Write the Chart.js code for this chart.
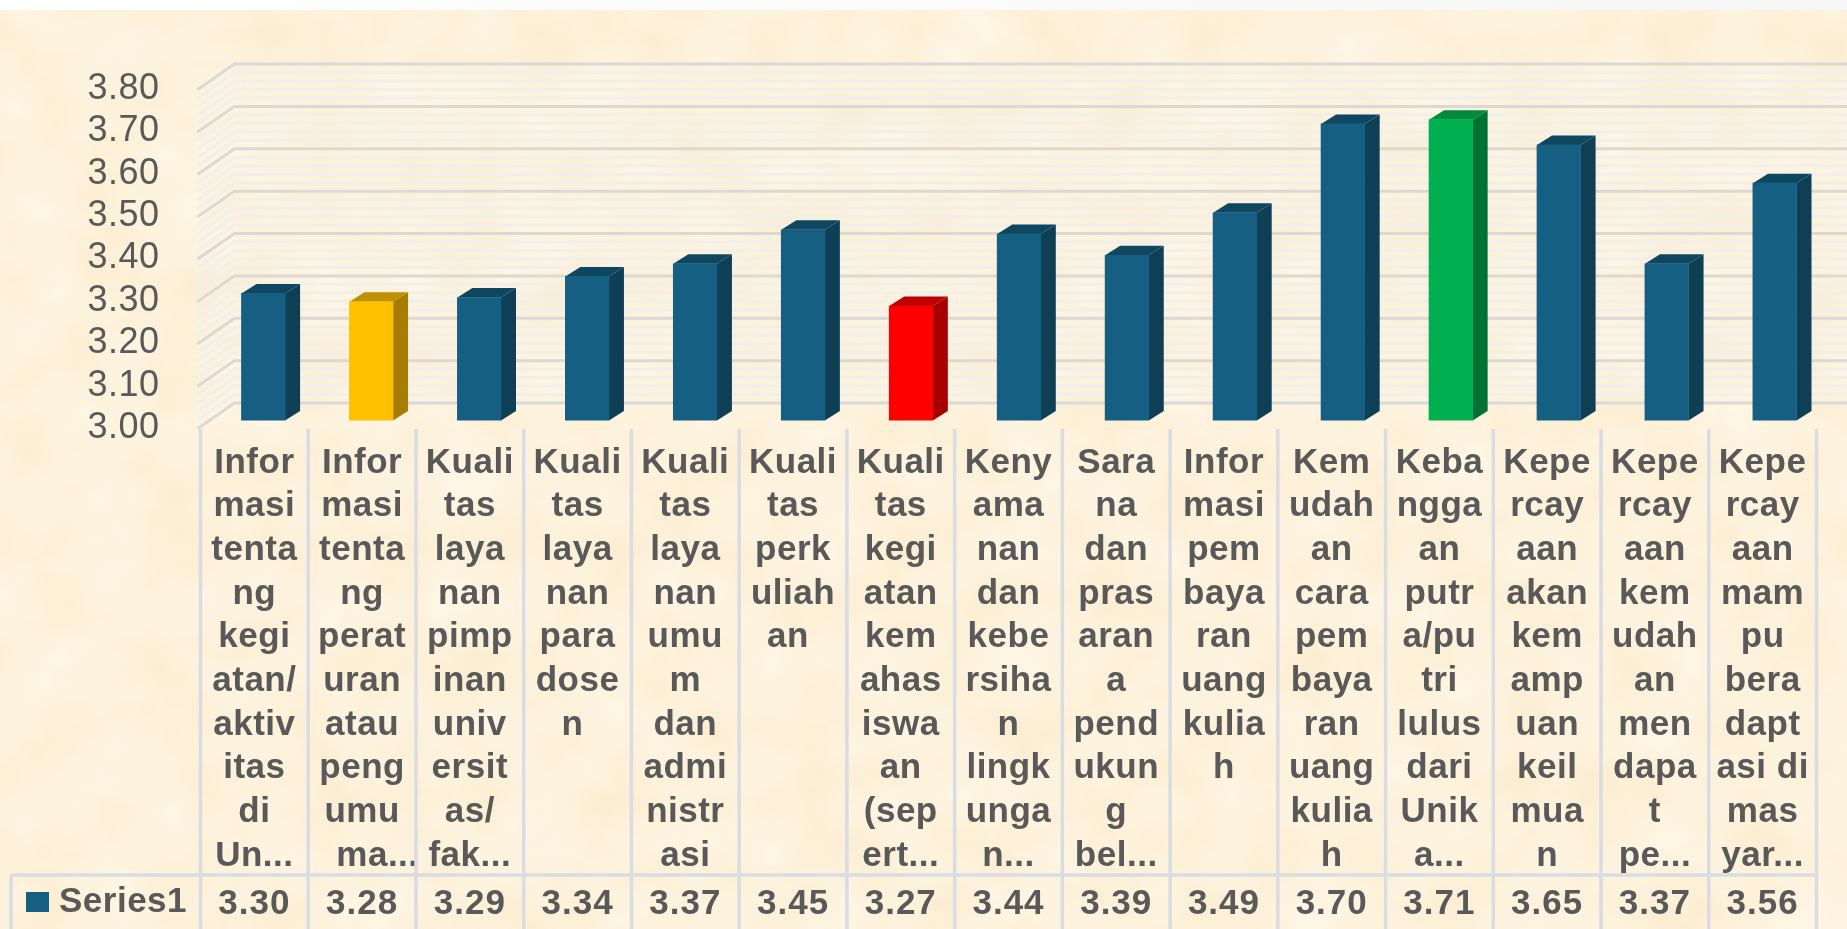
<!DOCTYPE html>
<html><head><meta charset="utf-8">
<style>
html,body{margin:0;padding:0;width:1847px;height:929px;overflow:hidden;background:#fff}
#bg{position:absolute;left:0;top:10px;width:1847px;height:919px}
#band{position:absolute;left:0;top:0;width:1847px;height:10px;background:linear-gradient(90deg,#fff,#f6f6f6)}
#wrap{position:absolute;left:0;top:0;width:1847px;height:929px}
</style></head><body>
<div id="band"></div>
<svg id="bg" xmlns="http://www.w3.org/2000/svg"><defs>
<filter id="p" x="0" y="0" width="100%" height="100%" color-interpolation-filters="sRGB">
<feTurbulence type="fractalNoise" baseFrequency="0.014 0.016" numOctaves="3" seed="7"/>
<feColorMatrix type="matrix" values="0 0 0 0.015 0.984  0 0 0 0.045 0.925  0 0 0 0.10 0.81  0 0 0 0 1"/>
</filter></defs><rect width="100%" height="100%" fill="#fdf1da"/><rect width="100%" height="100%" filter="url(#p)"/></svg>
<div id="wrap"><canvas id="c" width="1847" height="929"></canvas></div>
<script src="https://cdn.jsdelivr.net/npm/chart.js@4"></script>
<script>
const seriesName = "Series1";
const categoryLines = [
 ["Infor","masi","tenta","ng","kegi","atan/","aktiv","itas","di","Un..."],
 ["Infor","masi","tenta","ng","perat","uran","atau","peng","umu","   ma..."],
 ["Kuali","tas","laya","nan","pimp","inan","univ","ersit","as/","fak..."],
 ["Kuali","tas","laya","nan","para","dose","n "],
 ["Kuali","tas","laya","nan","umu","m","dan","admi","nistr","asi"],
 ["Kuali","tas","perk","uliah","an "],
 ["Kuali","tas","kegi","atan","kem","ahas","iswa","an","(sep","ert..."],
 ["Keny","ama","nan","dan","kebe","rsiha","n","lingk","unga","n..."],
 ["Sara","na","dan","pras","aran","a","pend","ukun","g","bel..."],
 ["Infor","masi","pem","baya","ran","uang","kulia","h"],
 ["Kem","udah","an","cara","pem","baya","ran","uang","kulia","h"],
 ["Keba","ngga","an","putr","a/pu","tri","lulus","dari","Unik","a..."],
 ["Kepe","rcay","aan","akan","kem","amp","uan","keil","mua","n"],
 ["Kepe","rcay","aan","kem","udah","an","men","dapa","t","pe..."],
 ["Kepe","rcay","aan","mam","pu","bera","dapt","asi di","mas","yar..."]
];
const seriesValues = [3.30,3.28,3.29,3.34,3.37,3.45,3.27,3.44,3.39,3.49,3.70,3.71,3.65,3.37,3.56];
const frontColors = ["#156082","#FFC000","#156082","#156082","#156082","#156082","#FF0000","#156082","#156082","#156082","#156082","#00B050","#156082","#156082","#156082"];
const sideColors  = ["#0E3F55","#A67D00","#0E3F55","#0E3F55","#0E3F55","#0E3F55","#A60000","#0E3F55","#0E3F55","#0E3F55","#0E3F55","#007233","#0E3F55","#0E3F55","#0E3F55"];
const topColors   = ["#0F4761","#BF9000","#0F4761","#0F4761","#0F4761","#0F4761","#C00000","#0F4761","#0F4761","#0F4761","#0F4761","#008A3E","#0F4761","#0F4761","#0F4761"];

const textColor = "#595959", fontFamily = "'Liberation Sans'";
const wall = {dx:36, dy:25, major:"#D9D9D9", minor:"#EFEFEE", right:1847};
const bar3d = {dx:15, dy:9.5, shiftY:-7.5, scaleX:1.0021, shiftX:8.35};
const table = {left:11, rowY:875, bottom:929, top:429, line:"#D9DCE2"};

const scene = {
 id:"scene",
 beforeDraw(chart){
  const {ctx, scales:{x,y}, chartArea:a} = chart;
  ctx.letterSpacing = "0.5px";
  ctx.save();
  const line = (v,color) => {
    const p = y.getPixelForValue(v);
    ctx.strokeStyle = color; ctx.lineWidth = 3; ctx.lineJoin = "round"; ctx.lineCap = "round";
    ctx.beginPath(); ctx.moveTo(a.left-2,p); ctx.lineTo(a.left-2+wall.dx,p-wall.dy); ctx.lineTo(wall.right+4,p-wall.dy); ctx.stroke();
  };
  for(let i=0;i<40;i++){ if(i%5) line(3+i*0.02, wall.minor); }
  for(let i=0;i<=40;i+=5){ line(3+i*0.02, wall.major); }
  ctx.restore();
 },
 beforeDatasetsDraw(chart){
  const {ctx, scales:{y}} = chart;
  const meta = chart.getDatasetMeta(0);
  const base = y.getPixelForValue(y.min);
  ctx.save();
  ctx.transform(bar3d.scaleX,0,0,1,bar3d.shiftX,bar3d.shiftY);
  meta.data.forEach((el,i)=>{
    const p = el.getProps(["x","y","width"],true);
    const l = p.x-p.width/2, r = p.x+p.width/2, dx = bar3d.dx, dy = bar3d.dy;
    ctx.fillStyle = sideColors[i];
    ctx.beginPath(); ctx.moveTo(r,p.y); ctx.lineTo(r+dx,p.y-dy); ctx.lineTo(r+dx,base-dy); ctx.lineTo(r,base); ctx.closePath(); ctx.fill();
    ctx.fillStyle = topColors[i];
    ctx.beginPath(); ctx.moveTo(l,p.y); ctx.lineTo(l+dx,p.y-dy); ctx.lineTo(r+dx,p.y-dy); ctx.lineTo(r,p.y); ctx.closePath(); ctx.fill();
  });
 },
 afterDatasetsDraw(chart){ chart.ctx.restore(); },
 afterDraw(chart){
  const {ctx, scales:{x}, chartArea:a} = chart;
  ctx.save();
  ctx.strokeStyle = table.line; ctx.lineWidth = 3.5;
  ctx.beginPath();
  ctx.moveTo(table.left,table.rowY); ctx.lineTo(a.right,table.rowY);
  ctx.moveTo(table.left,table.rowY); ctx.lineTo(table.left,table.bottom);
  for(let i=0;i<=seriesValues.length;i++){
    const px = a.left+(a.right-a.left)*i/seriesValues.length;
    ctx.moveTo(px,table.top); ctx.lineTo(px,table.bottom);
  }
  ctx.stroke();
  ctx.fillStyle = frontColors[0];
  ctx.fillRect(26,892,23,20);
  ctx.fillStyle = textColor;
  ctx.font = "bold 35px "+fontFamily;
  ctx.textBaseline = "middle";
  ctx.textAlign = "left";
  ctx.letterSpacing = "0.5px";
  ctx.fillText(seriesName,59,902);
  ctx.textAlign = "center";
  ctx.letterSpacing = "1px";
  seriesValues.forEach((v,i)=>ctx.fillText(v.toFixed(2),x.getPixelForTick(i),904));
  ctx.restore();
 }
};

new Chart(document.getElementById("c"),{
 type:"bar",
 data:{labels:categoryLines,datasets:[{label:seriesName,data:seriesValues,backgroundColor:frontColors,borderWidth:0,barThickness:43.5}]},
 options:{
  responsive:false,animation:false,
  layout:{padding:{left:0,top:89,right:30.5,bottom:0}},
  plugins:{legend:{display:false},tooltip:{enabled:false}},
  scales:{
   x:{
    grid:{display:false,drawTicks:false},border:{display:false},
    afterFit(s){s.height=501;},
    ticks:{autoSkip:false,maxRotation:0,minRotation:0,padding:13,color:textColor,
      font:{family:fontFamily,size:35,weight:"bold",lineHeight:"43.7px"}}
   },
   y:{
    min:3,max:3.8,
    grid:{display:false,drawTicks:false},border:{display:false},
    afterFit(s){s.width=200.5;},
    ticks:{stepSize:0.1,autoSkip:false,padding:41,color:textColor,
      font:{family:fontFamily,size:36},callback:v=>Number(v).toFixed(2)}
   }
  }
 },
 plugins:[scene]
});
</script></body></html>
